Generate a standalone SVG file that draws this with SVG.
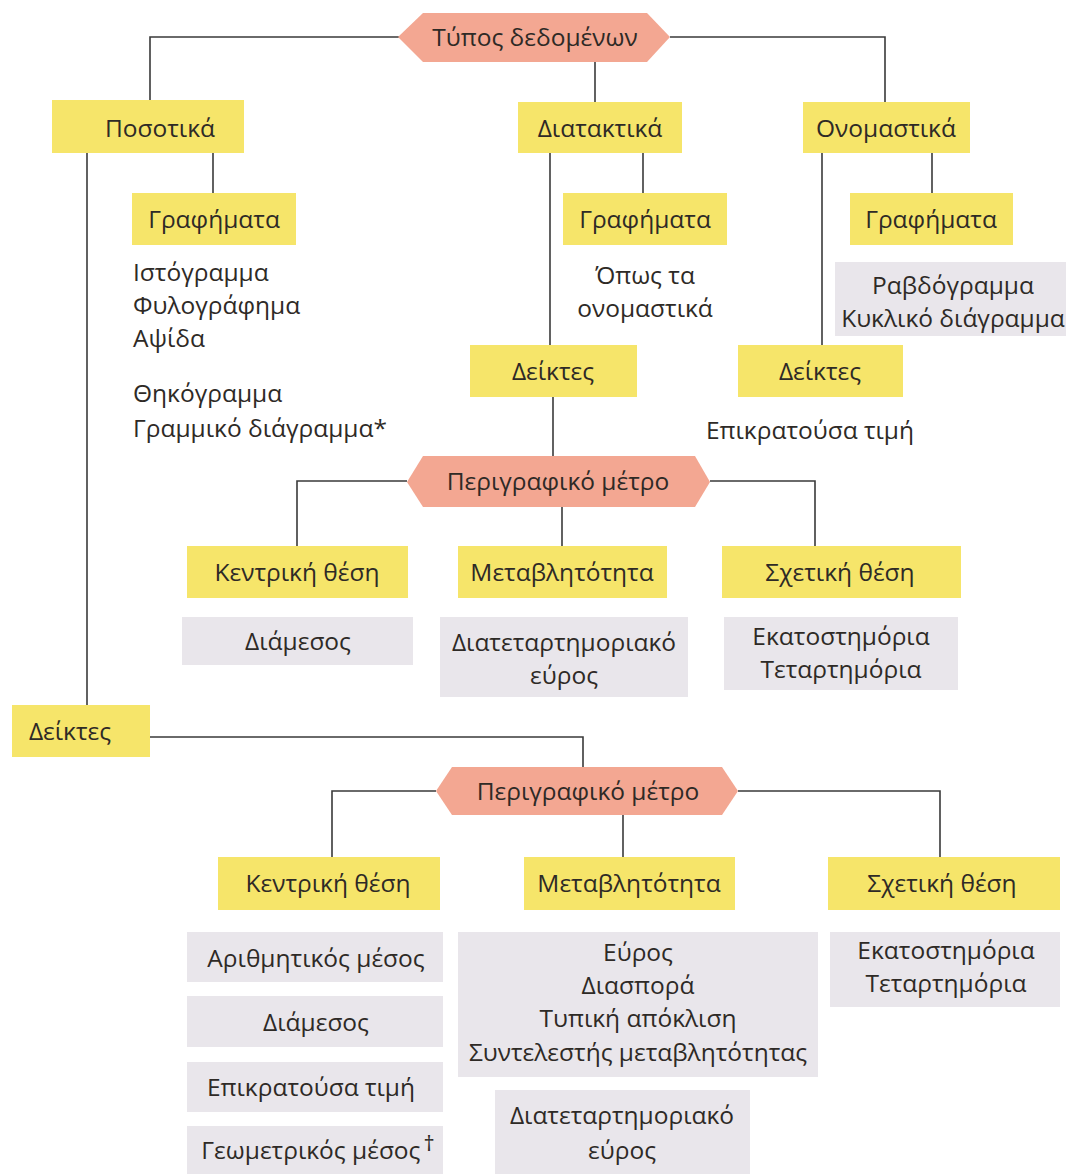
<svg xmlns="http://www.w3.org/2000/svg" width="1066" height="1174" viewBox="0 0 1066 1174">
<style>
.y{fill:#f6e56a}
.g{fill:#e9e6eb}
.h{fill:#f3a792}
.t{font-family:"Open Sans","Noto Sans",sans-serif;font-size:24.5px;fill:#2e2a26}
.c{text-anchor:middle}
.ln{stroke:#3a3a3a;stroke-width:1.6;fill:none}
</style>
<rect width="1066" height="1174" fill="#ffffff"/>
<g id="connectors" class="ln">
<polyline points="150,100 150,37 400,37"/>
<polyline points="670,37 885,37 885,102"/>
<line x1="595" y1="62" x2="595" y2="102"/>
<line x1="213" y1="153" x2="213" y2="193"/>
<line x1="87" y1="153" x2="87" y2="705"/>
<line x1="643" y1="153" x2="643" y2="193"/>
<line x1="932" y1="153" x2="932" y2="193"/>
<line x1="550" y1="153" x2="550" y2="345"/>
<line x1="822" y1="153" x2="822" y2="345"/>
<line x1="553" y1="397" x2="553" y2="456"/>
<polyline points="297,546 297,481 407,481"/>
<polyline points="710,481 815,481 815,546"/>
<line x1="562" y1="507" x2="562" y2="546"/>
<polyline points="150,737 583,737 583,767"/>
<polyline points="332,857 332,791 436,791"/>
<polyline points="738,791 940,791 940,857"/>
<line x1="623" y1="815" x2="623" y2="857"/>
</g>
<g id="typos">
<polygon class="h" points="398,37 423,13 647,13 670,37 647,62 423,62"/>
<text class="t c" x="535" y="46">Τύπος δεδομένων</text>
</g>
<g id="posotika">
<rect class="y" x="52" y="100" width="192" height="53"/>
<text class="t c" x="160" y="137">Ποσοτικά</text>
</g>
<g id="diataktika">
<rect class="y" x="518" y="102" width="164" height="51"/>
<text class="t c" x="600" y="137">Διατακτικά</text>
</g>
<g id="onomastika">
<rect class="y" x="803" y="102" width="167" height="51"/>
<text class="t c" x="886" y="137">Ονομαστικά</text>
</g>
<g id="grafimata1">
<rect class="y" x="132" y="193" width="164" height="52"/>
<text class="t c" x="214" y="228">Γραφήματα</text>
</g>
<g id="grafimata2">
<rect class="y" x="563" y="193" width="164" height="52"/>
<text class="t c" x="645" y="228">Γραφήματα</text>
</g>
<g id="grafimata3">
<rect class="y" x="850" y="193" width="163" height="52"/>
<text class="t c" x="931" y="228">Γραφήματα</text>
</g>
<g id="posotika-graphs">
<text class="t" x="133" y="281">Ιστόγραμμα</text>
<text class="t" x="133" y="314">Φυλογράφημα</text>
<text class="t" x="133" y="347">Αψίδα</text>
<text class="t" x="133" y="402">Θηκόγραμμα</text>
<text class="t" x="133" y="437">Γραμμικό διάγραμμα*</text>
</g>
<g id="diataktika-graphs">
<text class="t c" x="645" y="284">Όπως τα</text>
<text class="t c" x="645" y="317">ονομαστικά</text>
</g>
<g id="onomastika-graphs">
<rect class="g" x="835" y="262" width="231" height="74"/>
<text class="t c" x="953" y="294">Ραβδόγραμμα</text>
<text class="t c" x="953" y="327">Κυκλικό διάγραμμα</text>
</g>
<g id="deiktes-diat">
<rect class="y" x="470" y="345" width="167" height="52"/>
<text class="t c" x="553" y="380">Δείκτες</text>
</g>
<g id="deiktes-onom">
<rect class="y" x="738" y="345" width="165" height="52"/>
<text class="t c" x="820" y="380">Δείκτες</text>
</g>
<g id="epikratousa-onom">
<text class="t c" x="810" y="439">Επικρατούσα τιμή</text>
</g>
<g id="perigrafiko1">
<polygon class="h" points="407,482 423,456 695,456 710,482 695,507 423,507"/>
<text class="t c" x="558" y="490">Περιγραφικό μέτρο</text>
</g>
<g id="kentriki1">
<rect class="y" x="187" y="546" width="221" height="52"/>
<text class="t c" x="297" y="581">Κεντρική θέση</text>
</g>
<g id="metavlitotita1">
<rect class="y" x="458" y="546" width="209" height="52"/>
<text class="t c" x="562" y="581">Μεταβλητότητα</text>
</g>
<g id="sxetiki1">
<rect class="y" x="722" y="546" width="239" height="52"/>
<text class="t c" x="840" y="581">Σχετική θέση</text>
</g>
<g id="diamesos1">
<rect class="g" x="182" y="617" width="231" height="48"/>
<text class="t c" x="298" y="650">Διάμεσος</text>
</g>
<g id="iqr1">
<rect class="g" x="440" y="617" width="248" height="80"/>
<text class="t c" x="564" y="651">Διατεταρτημοριακό</text>
<text class="t c" x="564" y="684">εύρος</text>
</g>
<g id="pososta1">
<rect class="g" x="724" y="617" width="234" height="73"/>
<text class="t c" x="841" y="645">Εκατοστημόρια</text>
<text class="t c" x="841" y="678">Τεταρτημόρια</text>
</g>
<g id="deiktes-pos">
<rect class="y" x="12" y="705" width="138" height="52"/>
<text class="t c" x="70" y="740">Δείκτες</text>
</g>
<g id="perigrafiko2">
<polygon class="h" points="436,791 452,767 722,767 738,791 722,815 452,815"/>
<text class="t c" x="588" y="800">Περιγραφικό μέτρο</text>
</g>
<g id="kentriki2">
<rect class="y" x="218" y="857" width="222" height="53"/>
<text class="t c" x="328" y="892">Κεντρική θέση</text>
</g>
<g id="metavlitotita2">
<rect class="y" x="524" y="857" width="211" height="53"/>
<text class="t c" x="629" y="892">Μεταβλητότητα</text>
</g>
<g id="sxetiki2">
<rect class="y" x="828" y="857" width="232" height="53"/>
<text class="t c" x="942" y="892">Σχετική θέση</text>
</g>
<g id="arithmitikos">
<rect class="g" x="187" y="932" width="256" height="50"/>
<text class="t c" x="316" y="967">Αριθμητικός μέσος</text>
</g>
<g id="diamesos2">
<rect class="g" x="187" y="996" width="256" height="51"/>
<text class="t c" x="316" y="1031">Διάμεσος</text>
</g>
<g id="epikratousa2">
<rect class="g" x="187" y="1062" width="256" height="50"/>
<text class="t c" x="311" y="1096">Επικρατούσα τιμή</text>
</g>
<g id="geometrikos">
<rect class="g" x="187" y="1126" width="256" height="48"/>
<text class="t c" x="318" y="1159">Γεωμετρικός μέσος<tspan font-size="22" dx="3" dy="-8">†</tspan></text>
</g>
<g id="metavlitotita-list">
<rect class="g" x="458" y="932" width="360" height="145"/>
<text class="t c" x="638" y="961">Εύρος</text>
<text class="t c" x="638" y="994">Διασπορά</text>
<text class="t c" x="638" y="1027">Τυπική απόκλιση</text>
<text class="t c" x="638" y="1061">Συντελεστής μεταβλητότητας</text>
</g>
<g id="iqr2">
<rect class="g" x="495" y="1090" width="255" height="84"/>
<text class="t c" x="622" y="1124">Διατεταρτημοριακό</text>
<text class="t c" x="622" y="1159">εύρος</text>
</g>
<g id="pososta2">
<rect class="g" x="830" y="932" width="230" height="75"/>
<text class="t c" x="946" y="959">Εκατοστημόρια</text>
<text class="t c" x="946" y="992">Τεταρτημόρια</text>
</g>
</svg>
